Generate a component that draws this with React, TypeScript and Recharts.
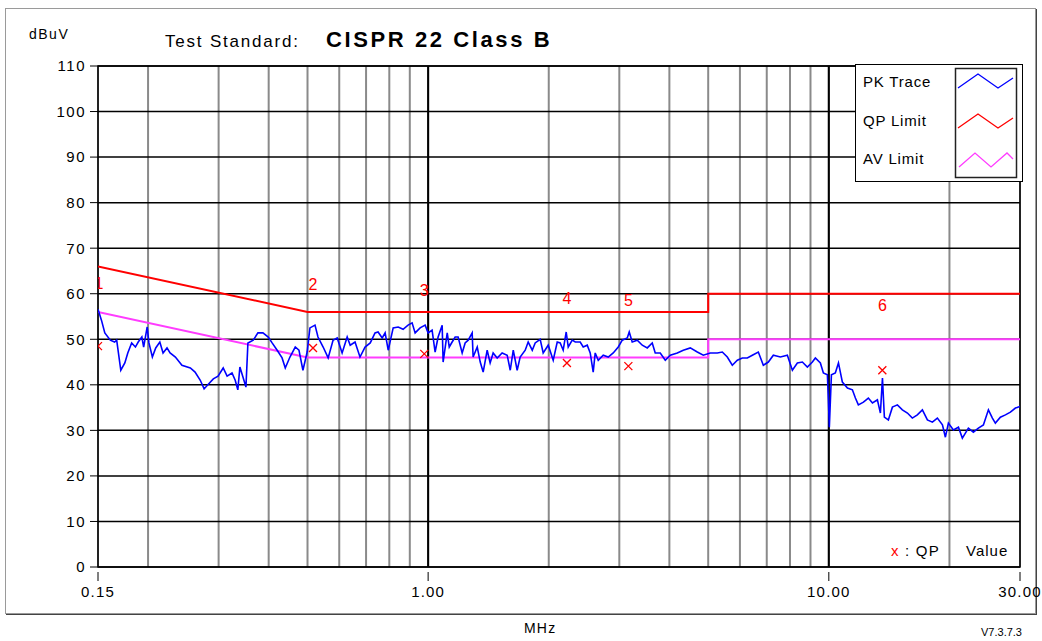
import React from 'react';
import {
  ComposedChart, Line, XAxis, YAxis, CartesianGrid, ReferenceLine, ReferenceArea, Legend
} from 'recharts';

// Peak trace (MHz / dBuV)
const FREQ_MHZ = [
  0.150, 0.153, 0.156, 0.161, 0.165, 0.167, 0.171, 0.175, 0.178, 0.182, 0.186, 0.189, 0.193, 0.195,
  0.199, 0.201, 0.205, 0.209, 0.214, 0.218, 0.223, 0.227, 0.234, 0.243, 0.255, 0.262, 0.270, 0.276,
  0.282, 0.291, 0.299, 0.308, 0.315, 0.324, 0.330, 0.335, 0.339, 0.345, 0.351, 0.355, 0.366, 0.376,
  0.387, 0.399, 0.408, 0.420, 0.432, 0.440, 0.452, 0.466, 0.476, 0.487, 0.499, 0.507, 0.522, 0.531,
  0.547, 0.563, 0.579, 0.593, 0.610, 0.628, 0.639, 0.657, 0.676, 0.696, 0.717, 0.737, 0.750, 0.768,
  0.781, 0.795, 0.818, 0.842, 0.866, 0.891, 0.912, 0.928, 0.955, 0.983, 1.000, 1.023, 1.041, 1.059,
  1.084, 1.090, 1.116, 1.129, 1.148, 1.168, 1.188, 1.216, 1.237, 1.259, 1.288, 1.295, 1.326, 1.349,
  1.372, 1.404, 1.428, 1.453, 1.487, 1.530, 1.575, 1.603, 1.631, 1.668, 1.697, 1.747, 1.777, 1.819,
  1.850, 1.904, 1.937, 1.994, 2.052, 2.100, 2.136, 2.173, 2.211, 2.237, 2.289, 2.329, 2.396, 2.438,
  2.495, 2.538, 2.582, 2.612, 2.658, 2.735, 2.815, 2.897, 2.982, 3.051, 3.140, 3.176, 3.231, 3.326,
  3.423, 3.523, 3.625, 3.688, 3.796, 3.907, 4.021, 4.186, 4.333, 4.511, 4.696, 4.861, 5.060, 5.268,
  5.422, 5.580, 5.743, 5.911, 6.083, 6.261, 6.443, 6.669, 6.864, 7.064, 7.270, 7.569, 7.880, 8.110,
  8.346, 8.590, 8.840, 9.098, 9.256, 9.526, 9.692, 9.918, 9.975, 10.03, 10.15, 10.38, 10.57, 10.81,
  11.13, 11.45, 11.65, 11.85, 12.20, 12.55, 12.85, 13.22, 13.45, 13.61, 13.76, 14.08, 14.41, 14.83,
  15.26, 15.71, 16.16, 16.63, 17.12, 17.62, 18.13, 18.66, 19.21, 19.54, 19.88, 20.46, 21.06, 21.54,
  21.92, 22.30, 22.95, 23.62, 24.31, 25.02, 25.60, 26.04, 26.80, 27.59, 28.39, 29.22, 29.73, 30.00,
];
const PK_DBUV = [
  56.6, 54.2, 51.4, 49.8, 49.4, 49.8, 43.2, 44.8, 47.0, 49.2, 48.3, 49.4, 50.5, 48.3,
  52.7, 49.2, 46.1, 48.1, 49.4, 47.0, 48.1, 47.0, 46.1, 44.3, 43.7, 42.8, 41.0, 39.1,
  40.0, 41.3, 41.9, 43.7, 41.9, 42.6, 41.0, 38.9, 43.9, 41.7, 39.5, 49.2, 49.8, 51.4,
  51.4, 50.5, 49.2, 47.6, 45.9, 43.7, 46.1, 48.3, 47.6, 43.2, 47.2, 52.5, 53.1, 50.5,
  48.3, 45.9, 49.8, 50.3, 47.0, 50.5, 48.7, 49.4, 46.1, 48.3, 49.2, 51.4, 51.6, 50.3,
  51.4, 47.6, 52.5, 52.7, 52.2, 53.1, 53.6, 51.4, 52.5, 53.1, 51.4, 52.0, 47.2, 50.5,
  53.1, 45.0, 51.4, 48.3, 49.4, 50.5, 50.5, 47.0, 49.2, 49.8, 51.4, 46.1, 48.3, 45.0,
  42.8, 47.6, 44.8, 47.0, 45.9, 47.0, 46.5, 43.2, 47.6, 43.2, 46.1, 47.6, 49.4, 47.6,
  49.2, 50.0, 47.0, 48.7, 45.4, 49.4, 49.2, 47.6, 51.6, 48.3, 49.8, 49.4, 49.4, 48.3,
  48.7, 47.0, 42.8, 47.0, 45.4, 46.5, 46.1, 47.0, 48.3, 49.8, 50.3, 51.6, 49.4, 49.8,
  48.7, 48.1, 49.2, 47.0, 47.0, 45.4, 46.5, 47.0, 47.6, 48.1, 47.2, 46.5, 47.0, 47.0,
  47.2, 46.1, 44.3, 45.4, 45.9, 45.9, 46.5, 47.2, 44.3, 45.0, 46.5, 46.1, 46.5, 43.2,
  44.8, 45.0, 43.9, 45.0, 45.9, 44.8, 42.6, 42.2, 36.7, 30.7, 42.2, 42.6, 44.8, 40.6,
  39.3, 38.9, 37.1, 35.6, 36.2, 37.1, 36.0, 36.7, 33.8, 41.5, 32.9, 32.3, 35.1, 35.6,
  34.5, 33.8, 32.7, 33.4, 34.5, 32.3, 31.8, 32.7, 31.2, 28.5, 31.6, 30.1, 30.7, 28.3,
  29.4, 30.5, 29.6, 30.5, 31.2, 34.5, 32.7, 31.6, 32.9, 33.4, 34.0, 34.9, 35.1, 35.3,
];

// CISPR 22 Class B limits
const QP_LIMIT_F = [0.15, 0.5, 5, 5, 30];
const QP_LIMIT_V = [66, 56, 56, 60, 60];
const AV_LIMIT_F = [0.15, 0.5, 5, 5, 30];
const AV_LIMIT_V = [56, 46, 46, 50, 50];

// QP measurement points
const MARK_NAMES = ['1', '2', '3', '4', '5', '6'];
const MARK_F = [0.15, 0.516, 0.978, 2.22, 3.16, 13.6];
const MARK_QP = [48.5, 48.1, 46.8, 44.8, 44.1, 43.2];
const MARK_LABEL_V = [62.3, 62.1, 60.8, 59.0, 58.6, 57.5];

const X_LABELS = [0.15, 1, 10, 30];
const X_GRID = [0.15, 0.2, 0.3, 0.4, 0.5, 0.6, 0.7, 0.8, 0.9, 1, 2, 3, 4, 5, 6, 7, 8, 9, 10, 20, 30];
const X_MAJOR = [1, 10];
const Y_TICKS = [0, 10, 20, 30, 40, 50, 60, 70, 80, 90, 100, 110];

const FONT = '"Liberation Sans", Arial, sans-serif';
const BLUE = '#0000ff';
const RED = '#ff0000';
const PINK = '#ff3cff';

const pkData = FREQ_MHZ.map((f, i) => ({ f, v: PK_DBUV[i] }));
const qpData = QP_LIMIT_F.map((f, i) => ({ f, v: QP_LIMIT_V[i] }));
const avData = AV_LIMIT_F.map((f, i) => ({ f, v: AV_LIMIT_V[i] }));
const markData = MARK_F.map((f, i) => ({ f, v: MARK_QP[i] }));
const markLabelData = MARK_F.map((f, i) => ({ f, v: MARK_LABEL_V[i], name: MARK_NAMES[i] }));

const XTick = (props: any) => {
  const { x, y, payload } = props;
  if (!X_LABELS.includes(payload.value)) return <g />;
  return (
    <g>
      <line x1={x} x2={x} y1={y + 5} y2={y + 14} stroke="#000" />
      <text x={x} y={y + 30} textAnchor="middle" fontSize={15} fontFamily={FONT} letterSpacing={1.2} fill="#000">
        {payload.value.toFixed(2)}
      </text>
    </g>
  );
};

const Cross = (props: any) => {
  const { cx, cy, index } = props;
  if (cx == null || cy == null) return <g key={`c${index}`} />;
  return (
    <path key={`c${index}`} d={`M${cx - 4},${cy - 4}L${cx + 4},${cy + 4}M${cx + 4},${cy - 4}L${cx - 4},${cy + 4}`}
      stroke={RED} strokeWidth={1.3} fill="none" />
  );
};

const MarkLabel = (props: any) => {
  const { cx, cy, index, payload } = props;
  if (cx == null || cy == null) return <g key={`l${index}`} />;
  return (
    <text key={`l${index}`} x={index === 0 ? cx + 1 : cx} y={cy + 6} textAnchor="middle" fontSize={16} fontFamily={FONT} fill={RED}>
      {payload.name}
    </text>
  );
};

const LegendBox = () => {
  const rows = [
    { name: 'PK Trace', color: BLUE, y: 23, pts: '103,24 123,10 143,24 158,14' },
    { name: 'QP Limit', color: RED, y: 62, pts: '103,64 123,50 143,64 158,54' },
    { name: 'AV Limit', color: PINK, y: 100, pts: '104,103 120,89 136,103 152,89 158,95' },
  ];
  return (
    <svg width={168} height={118} style={{ display: 'block' }}>
      <rect x={0.5} y={0.5} width={167} height={117} fill="#fff" stroke="#000" />
      <rect x={100.5} y={4.5} width={61} height={109} fill="#fff" stroke="#222" strokeWidth={1.5} />
      {rows.map((r) => (
        <g key={r.name}>
          <text x={8} y={r.y} fontSize={15} fontFamily={FONT} letterSpacing={0.8} fill="#000">{r.name}</text>
          <polyline points={r.pts} fill="none" stroke={r.color} strokeWidth={1.3} />
        </g>
      ))}
    </svg>
  );
};

export default function App() {
  return (
    <div style={{ position: 'absolute', left: 0, top: 0, width: 1042, height: 641, background: '#fff', fontFamily: FONT }}>
      <div style={{ position: 'absolute', left: 5, top: 8, width: 1029, height: 604, border: '1px solid #9a9a9a', boxShadow: '1px 1px 0 #444' }} />
      <div style={{ position: 'absolute', left: 0, top: 0 }}>
        <ComposedChart width={1042} height={641} margin={{ top: 66, right: 22, bottom: 44, left: 58 }}>
          <CartesianGrid horizontal={false} vertical stroke="#8a8a8a" strokeWidth={2} />
          <CartesianGrid horizontal vertical={false} stroke="#000" strokeWidth={1.5} />
          <XAxis
            type="number"
            dataKey="f"
            scale="log"
            domain={[0.15, 30]}
            ticks={X_GRID}
            allowDataOverflow
            axisLine={false}
            tickLine={false}
            tickSize={0}
            tickMargin={0}
            height={30}
            interval={0}
            tick={<XTick />}
          />
          <YAxis
            type="number"
            domain={[0, 110]}
            ticks={Y_TICKS}
            interval={0}
            width={40}
            axisLine={false}
            tickLine={{ stroke: '#000' }}
            tickSize={8}
            tickMargin={4}
            tick={{ fontSize: 15, fill: '#000', fontFamily: FONT, letterSpacing: 1.5 }}
          />
          {X_MAJOR.map((f) => (
            <ReferenceLine key={f} x={f} stroke="#000" strokeWidth={2} />
          ))}
          <ReferenceArea x1={0.15} x2={30} y1={0} y2={110} fill="none" stroke="#000" strokeWidth={1.5} />
          <Line data={qpData} dataKey="v" type="linear" stroke={RED} strokeWidth={2} dot={false} isAnimationActive={false} />
          <Line data={avData} dataKey="v" type="linear" stroke={PINK} strokeWidth={2} dot={false} isAnimationActive={false} />
          <Line data={pkData} dataKey="v" type="linear" stroke={BLUE} strokeWidth={1.6} dot={false} isAnimationActive={false} />
          <Line data={markData} dataKey="v" stroke="none" dot={Cross} activeDot={false} isAnimationActive={false} />
          <Line data={markLabelData} dataKey="v" stroke="none" dot={MarkLabel} activeDot={false} isAnimationActive={false} />
          <Legend
            layout="horizontal"
            verticalAlign="middle"
            align="center"
            content={<LegendBox />}
            wrapperStyle={{ position: 'absolute', left: 855, top: 64, width: 168, height: 118 }}
          />
        </ComposedChart>
      </div>
      <div style={{ position: 'absolute', left: 29, top: 26, fontSize: 14, lineHeight: '16px', letterSpacing: 1.5 }}>dBuV</div>
      <div style={{ position: 'absolute', left: 165, top: 32, fontSize: 17, lineHeight: '19px', letterSpacing: 1.8 }}>Test Standard:</div>
      <div style={{ position: 'absolute', left: 326, top: 28, fontSize: 22, lineHeight: '24px', fontWeight: 'bold', letterSpacing: 2.6 }}>CISPR 22 Class B</div>
      <div style={{ position: 'absolute', left: 891, top: 543, fontSize: 15, lineHeight: '16px', letterSpacing: 1.2 }}>
        <span style={{ color: RED }}>x</span> : QP
      </div>
      <div style={{ position: 'absolute', left: 966, top: 543, fontSize: 15, lineHeight: '16px', letterSpacing: 1 }}>Value</div>
      <div style={{ position: 'absolute', left: 524, top: 620, fontSize: 14, lineHeight: '16px', letterSpacing: 1.2 }}>MHz</div>
      <div style={{ position: 'absolute', left: 981, top: 626, fontSize: 11, lineHeight: '13px' }}>V7.3.7.3</div>
    </div>
  );
}
